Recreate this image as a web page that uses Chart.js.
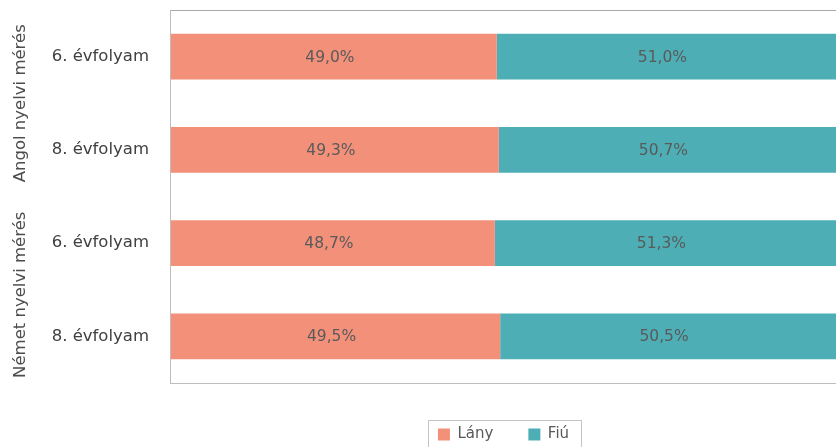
<!DOCTYPE html>
<html>
<head>
<meta charset="utf-8">
<script src="https://cdn.jsdelivr.net/npm/chart.js@4/dist/chart.umd.min.js"></script>
<style>
  html, body { margin: 0; padding: 0; background: #fff; }
  #wrap { width: 836px; height: 447px; }
</style>
</head>
<body>
<div id="wrap"><canvas id="chart"></canvas></div>
<script>
// ==================================================
// DATA
// ==================================================
const categories = ["6. évfolyam", "8. évfolyam", "6. évfolyam", "8. évfolyam"];
const groupNames = ["Angol nyelvi mérés", "Német nyelvi mérés"];
const groupRows = [[0, 1], [2, 3]];
const lanyValues = [49.0, 49.3, 48.7, 49.5];
const fiuValues = [51.0, 50.7, 51.3, 50.5];

const FONT = "'DejaVu Sans', sans-serif";

// ==================================================
// PLUGINS
// ==================================================
// percent labels in the middle of every segment
const barLabels = {
  id: "barLabels",
  afterDatasetsDraw(chart) {
    const ctx = chart.ctx;
    ctx.save();
    ctx.font = "15.5px " + FONT;
    ctx.fillStyle = "#5a5a5a";
    ctx.textAlign = "center";
    ctx.textBaseline = "middle";
    chart.data.datasets.forEach((ds, i) => {
      chart.getDatasetMeta(i).data.forEach((bar, j) => {
        const text = ds.data[j].toFixed(1).replace(".", ",") + "%";
        ctx.fillText(text, (bar.x + bar.base) / 2 - 4, bar.y + 1);
      });
    });
    ctx.restore();
  },
};

// rotated group names + plot frame + legend frame
const frames = {
  id: "frames",
  beforeDatasetsDraw(chart) {
    const { ctx, chartArea } = chart;
    ctx.save();
    ctx.strokeStyle = "#bdbdbd";
    ctx.lineWidth = 1;
    ctx.strokeRect(chartArea.left - 0.5, chartArea.top + 0.5, chartArea.width + 20, chartArea.height);
    ctx.strokeStyle = "#a8a8a8";
    ctx.beginPath();
    ctx.moveTo(chartArea.left, chartArea.top + 0.5);
    ctx.lineTo(chartArea.right + 10, chartArea.top + 0.5);
    ctx.stroke();
    ctx.restore();
  },
  afterDraw(chart) {
    const { ctx } = chart;
    const yScale = chart.scales.y;
    ctx.save();
    ctx.font = "16.5px " + FONT;
    ctx.fillStyle = "#4d4d4d";
    ctx.textAlign = "center";
    ctx.textBaseline = "middle";
    groupNames.forEach((name, g) => {
      const rows = groupRows[g];
      const yc = (yScale.getPixelForValue(rows[0]) + yScale.getPixelForValue(rows[rows.length - 1])) / 2;
      ctx.save();
      ctx.translate(21, yc + g * 5);
      ctx.rotate(-Math.PI / 2);
      ctx.fillText(name, 0, 0);
      ctx.restore();
    });

    const boxes = chart.legend.legendHitBoxes;
    if (boxes && boxes.length) {
      const left = Math.min(...boxes.map((b) => b.left)) - 10;
      const right = Math.max(...boxes.map((b) => b.left + b.width)) + 12;
      ctx.strokeStyle = "#c4c4c4";
      ctx.lineWidth = 1;
      ctx.strokeRect(Math.round(left) + 0.5, 420.5, Math.round(right - left), 40);
    }
    ctx.restore();
  },
};

// ==================================================
// CHART
// ==================================================
new Chart(document.getElementById("chart"), {
  type: "bar",
  data: {
    labels: categories,
    datasets: [
      {
        label: "Lány",
        data: lanyValues,
        backgroundColor: "#f2907a",
        borderWidth: 0,
        categoryPercentage: 1,
        barPercentage: 0.49,
      },
      {
        label: "Fiú",
        data: fiuValues,
        backgroundColor: "#4daeb6",
        borderWidth: 0,
        categoryPercentage: 1,
        barPercentage: 0.49,
      },
    ],
  },
  options: {
    indexAxis: "y",
    responsive: true,
    maintainAspectRatio: false,
    animation: false,
    layout: { padding: { top: 10, right: -6, left: 0, bottom: -5 } },
    scales: {
      x: {
        stacked: true,
        min: 0,
        max: 100,
        grid: { display: false },
        border: { display: false },
        ticks: { display: false },
        afterFit(scale) {
          scale.height = 9;
        },
      },
      y: {
        stacked: true,
        grid: { display: false },
        border: { display: false },
        ticks: {
          color: "#404040",
          font: { family: FONT, size: 16.5 },
          padding: 14,
        },
        afterFit(scale) {
          scale.width = 171;
          scale.paddingTop = 0;
          scale.paddingBottom = 0;
        },
      },
    },
    plugins: {
      tooltip: { enabled: false },
      legend: {
        position: "bottom",
        fullSize: false,
        labels: {
          boxWidth: 12,
          boxHeight: 12,
          padding: 35,
          color: "#595959",
          font: { family: FONT, size: 15 },
        },
      },
    },
  },
  plugins: [barLabels, frames],
});
</script>
</body>
</html>
